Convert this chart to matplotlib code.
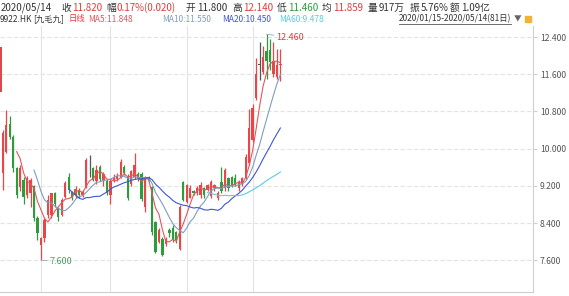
import numpy as np
import pandas as pd
import matplotlib.pyplot as plt
from matplotlib.lines import Line2D
from matplotlib.patches import Rectangle

plt.rcParams['font.family'] = ['Noto Sans CJK SC', 'DejaVu Sans']

# 9922.HK daily candles, 2020/01/15 - 2020/05/14 (81 trading days)
opens = [9.47, 9.93, 10.54, 10.26, 9.58, 9.18, 9.32, 9.00, 9.04, 9.20,
         8.50, 7.93, 8.07, 8.57, 8.57, 9.04, 8.72, 8.57, 8.97, 9.40,
         9.07, 9.00, 9.11, 9.00, 9.18, 9.60, 9.58, 9.30, 9.60, 9.30,
         9.30, 9.00, 9.32, 9.35, 9.40, 9.60, 9.40, 9.25, 9.40, 9.45,
         9.45, 8.75, 9.40, 9.18, 8.42, 8.00, 8.05, 7.96, 8.25, 8.29,
         8.20, 7.85, 9.29, 8.85, 8.95, 9.10, 9.04, 9.00, 9.15, 9.11,
         8.98, 9.15, 8.93, 9.29, 9.15, 9.36, 9.40, 9.36, 9.15, 9.25,
         9.37, 9.70, 10.18, 11.09, 11.80, 11.65, 12.10, 12.12, 11.60, 11.55,
         11.80]
highs = [10.40, 10.83, 10.70, 10.30, 9.60, 9.65, 9.40, 9.42, 9.36, 9.22,
         8.55, 8.10, 8.50, 9.00, 9.05, 9.06, 8.75, 8.95, 9.30, 9.48,
         9.10, 9.20, 9.15, 9.12, 9.80, 9.86, 9.60, 9.65, 9.65, 9.50,
         9.35, 9.35, 9.45, 9.47, 9.78, 9.64, 9.45, 9.55, 9.90, 9.50,
         9.50, 9.42, 9.42, 9.20, 8.45, 8.30, 8.10, 8.10, 8.30, 8.35,
         8.22, 8.78, 9.30, 9.25, 9.22, 9.12, 9.20, 9.28, 9.18, 9.25,
         9.33, 9.25, 9.10, 9.61, 9.58, 9.40, 9.42, 9.45, 9.32, 9.40,
         9.88, 10.85, 10.97, 11.95, 12.29, 12.20, 12.46, 12.35, 12.30, 12.15,
         12.14]
lows = [9.11, 9.90, 10.20, 9.50, 8.95, 9.10, 8.82, 8.95, 8.75, 8.45,
        8.03, 7.60, 8.00, 8.50, 8.50, 8.75, 8.45, 8.55, 8.95, 9.05,
        8.90, 8.95, 8.95, 8.97, 9.15, 9.40, 9.30, 9.25, 9.30, 9.20,
        9.00, 8.82, 9.28, 9.30, 9.38, 9.44, 8.90, 9.20, 9.35, 9.30,
        8.88, 8.64, 9.30, 8.15, 7.75, 7.97, 7.70, 7.90, 8.10, 8.00,
        7.98, 7.82, 8.88, 8.83, 8.93, 9.00, 9.00, 8.95, 8.95, 9.08,
        8.95, 9.10, 8.90, 9.05, 9.10, 9.10, 9.18, 9.20, 9.10, 9.20,
        9.35, 9.65, 10.15, 11.05, 11.48, 11.60, 11.50, 11.70, 11.55, 11.50,
        11.46]
closes = [10.33, 10.51, 10.26, 9.58, 9.00, 9.58, 8.97, 9.36, 9.32, 8.50,
          8.18, 8.07, 8.46, 8.90, 9.04, 8.82, 8.54, 8.90, 9.27, 9.11,
          8.97, 9.14, 9.00, 9.07, 9.75, 9.60, 9.32, 9.55, 9.35, 9.45,
          9.04, 9.30, 9.40, 9.42, 9.72, 9.47, 8.95, 9.52, 9.65, 9.38,
          8.92, 9.38, 9.35, 8.20, 7.78, 8.25, 7.72, 8.06, 8.18, 8.04,
          8.04, 8.75, 8.90, 9.22, 9.15, 9.04, 9.15, 9.22, 9.00, 9.22,
          9.29, 9.22, 9.04, 9.08, 9.55, 9.15, 9.22, 9.22, 9.29, 9.36,
          9.83, 10.45, 10.87, 11.60, 11.80, 11.97, 11.88, 11.86, 11.88, 11.80,
          11.82]

# red bar cut off at the left edge of the chart
edge_bar = [11.22, 12.18]

month_starts = [11, 31, 53, 72]   # first trading day of Feb, Mar, Apr, May
ma_windows = [5, 10, 20, 60]
ma_colors = ['#e2575b', '#7f9dbf', '#3f55d6', '#56cfe0']
y_ticks = [7.6, 8.4, 9.2, 10.0, 10.8, 11.6, 12.4]

RED, GREEN, DARK = '#e03c3c', '#2f9a3c', '#333333'
# header line 1: (label, value, value colour, x of label in px)
quote = [('', '2020/05/14', DARK, 1), ('收', '11.820', RED, 61), ('幅', '0.17%(0.020)', RED, 106),
         ('开', '11.800', DARK, 186), ('高', '12.140', RED, 232), ('低', '11.460', GREEN, 277),
         ('均', '11.859', RED, 322), ('量', '917万', DARK, 368), ('振', '5.76%', DARK, 410),
         ('额', '1.09亿', DARK, 450)]
row2 = [('9922.HK', DARK, 0), ('[九毛九]', DARK, 33), ('日线', RED, 69),
        ('MA5:11.848', ma_colors[0], 88), ('MA10:11.550', ma_colors[1], 162),
        ('MA20:10.450', ma_colors[2], 222), ('MA60:9.478', ma_colors[3], 279)]

W, H = 569, 296
fig = plt.figure(figsize=(W / 100, H / 100), dpi=100)
ax = fig.add_axes([0, 1 - 291.7 / H, 533 / W, (291.7 - 26) / H])

o = np.array(opens)
h = np.array(highs)
l = np.array(lows)
c = np.array(closes)
x = np.arange(len(c))

cols = np.where(c > o, '#e8474a', np.where(c < o, '#2e9b3d', '#555555'))
ax.vlines(x, l, h, colors=cols, linewidth=0.9, zorder=3)
body = np.maximum(np.abs(c - o), 0.015)
ax.bar(x, body, bottom=np.minimum(o, c), width=0.68, color=cols, linewidth=0, zorder=4)
ax.bar(-0.6, edge_bar[1] - edge_bar[0], bottom=edge_bar[0], width=0.68,
       color='#d94a4a', linewidth=0, zorder=4)

cs = pd.Series(closes)
for win, col in zip(ma_windows, ma_colors):
    ax.plot(x, cs.rolling(win).mean(), color=col, linewidth=0.8, zorder=5)

for t in y_ticks:
    ax.axhline(t, color='#e3e3e3', linewidth=0.8, linestyle=(0, (4, 2)), zorder=0)
for m in month_starts:
    ax.axvline(m, color='#e3e3e3', linewidth=0.8, zorder=0)

# max / min markers
imax = int(np.argmax(h))
imin = int(np.argmin(l))
ax.annotate(f'{h[imax]:.3f}', xy=(imax, h[imax]), xytext=(10, -3), textcoords='offset pixels',
            color=RED, fontsize=6.5, va='center', ha='left',
            arrowprops=dict(arrowstyle='-', color='#9fb3c8', linewidth=0.7,
                            shrinkA=0, shrinkB=0))
ax.annotate(f'{l[imin]:.3f}', xy=(imin, l[imin]), xytext=(9, -1), textcoords='offset pixels',
            color='#4f9a5f', fontsize=6.5, va='center', ha='left',
            arrowprops=dict(arrowstyle='-', color='#9fb3c8', linewidth=0.7,
                            shrinkA=0, shrinkB=0))

ax.set_xlim(-0.807, 152.8)
ax.set_ylim(6.925, 12.637)
ax.yaxis.tick_right()
ax.set_yticks(y_ticks)
ax.set_yticklabels([f'{t:.3f}' for t in y_ticks])
ax.tick_params(axis='y', length=3, color='#d0d0d0', pad=2, labelsize=6.2, labelcolor='#555555')
ax.set_xticks([])
for s in ['top', 'left']:
    ax.spines[s].set_visible(False)
for s in ['right', 'bottom']:
    ax.spines[s].set_color('#cfcfcf')
    ax.spines[s].set_linewidth(0.8)

for lab, val, col, px in quote:
    if lab:
        fig.text(px / W, 1 - 8 / H, lab, color=DARK, fontsize=7, va='center', ha='left')
        fig.text((px + 11) / W, 1 - 8 / H, val, color=col, fontsize=7, va='center', ha='left')
    else:
        fig.text(px / W, 1 - 8 / H, val, color=col, fontsize=7, va='center', ha='left')

for txt, col, px in row2:
    fig.text(px / W, 1 - 19 / H, txt, color=col, fontsize=6, va='center', ha='left')

rng = fig.text(399 / W, 1 - 19 / H, '2020/01/15-2020/05/14(81日)', color=DARK,
               fontsize=6, va='center', ha='left')
fig.canvas.draw()
bb = rng.get_window_extent().transformed(fig.transFigure.inverted())
fig.add_artist(Line2D([bb.x0, bb.x1], [bb.y0 - 0.5 / H, bb.y0 - 0.5 / H], color='#555555',
                      linewidth=0.6, transform=fig.transFigure))
fig.text(bb.x1 + 2 / W, 1 - 19 / H, '▼', color='#666666', fontsize=5.5, va='center', ha='left')
fig.add_artist(Rectangle((525 / W, 1 - 22 / H), 6 / W, 6 / H, color='#f2b233',
                         transform=fig.transFigure))

fig.savefig('out.png', dpi=100)
